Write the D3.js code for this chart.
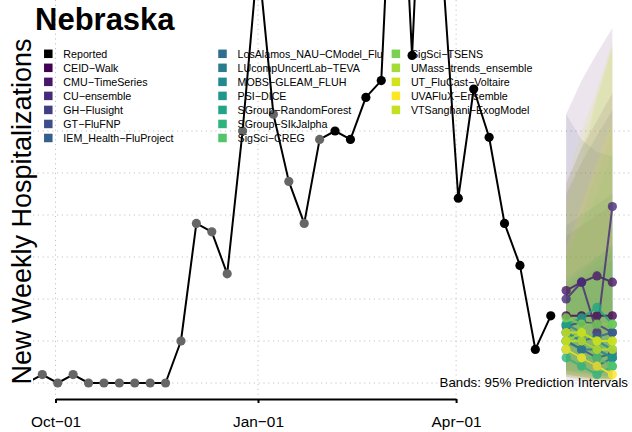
<!DOCTYPE html>
<html>
<head>
<meta charset="utf-8">
<script src="https://cdn.jsdelivr.net/npm/d3@7"></script>
<style>
  body { margin: 0; background: #fff; }
  svg { display: block; }
  text { font-family: "Liberation Sans", Arial, Helvetica, sans-serif; }
</style>
</head>
<body>
<svg id="chart" width="632" height="432"></svg>
<script>
// ---- Reported weekly hospitalizations (Nebraska) ----
const reportedDates = [
  "2022-09-18","2022-09-25","2022-10-02","2022-10-09","2022-10-16","2022-10-23",
  "2022-10-30","2022-11-06","2022-11-13","2022-11-20","2022-11-27","2022-12-04",
  "2022-12-11","2022-12-18","2022-12-25","2023-01-01","2023-01-08","2023-01-15",
  "2023-01-22","2023-01-29","2023-02-05","2023-02-12","2023-02-19","2023-02-26",
  "2023-03-05","2023-03-12","2023-03-19","2023-03-26","2023-04-02","2023-04-09",
  "2023-04-16","2023-04-23","2023-04-30","2023-05-07","2023-05-14"
];
const reportedValues = [
  0, 4, 0, 4, 0, 0,
  0, 0, 0, 0, 20, 76,
  72, 52, 120, 203, 128, 96,
  76, 116, 120, 116, 136, 144,
  300, 156, 315, 195, 88, 140,
  117, 76, 56, 16, 32
];
// weeks from this date on are final (black markers); earlier ones are grey
const finalFrom = "2023-02-05";

// ---- Forecasting models ----
const models = [
  "CEID\u2212Walk", "CMU\u2212TimeSeries", "CU\u2212ensemble", "GH\u2212Flusight",
  "GT\u2212FluFNP", "IEM_Health\u2212FluProject", "LosAlamos_NAU\u2212CModel_Flu",
  "LUcompUncertLab\u2212TEVA", "MOBS\u2212GLEAM_FLUH", "PSI\u2212DICE",
  "SGroup\u2212RandomForest", "SGroup\u2212SIkJalpha", "SigSci\u2212CREG",
  "SigSci\u2212TSENS", "UMass\u2212trends_ensemble", "UT_FluCast\u2212Voltaire",
  "UVAFluX\u2212Ensemble", "VTSanghani\u2212ExogModel"
];
const modelColors = [
  "#440154", "#481769", "#472a7a", "#433d84", "#3d4e8a", "#355f8d",
  "#2e6d8e", "#297b8e", "#23898e", "#1f978b", "#21a585", "#2eb37c",
  "#52c569", "#7ad151", "#a5db36", "#d2e21b", "#fde725", "#c5e021"
];

const forecastDates = ["2023-05-21", "2023-05-28", "2023-06-04", "2023-06-11"];

// medians, one row per model, one column per horizon
const forecastMedian = [
  [32, 32, 32, 32],
  [44, 48, 51, 48],
  [40, 48, 24, 84],
  [27, 29, 28, 24],
  [20, 16, 12, 14],
  [24, 20, 22, 24],
  [16, 12, 8, 12],
  [20, 16, 16, 12],
  [28, 24, 20, 16],
  [24, 20, 16, 12],
  [28, 31, 36, 28],
  [12, 8, 4, 8],
  [16, 12, 12, 8],
  [31, 28, 28, 28],
  [20, 24, 20, 20],
  [24, 24, 20, 20],
  [16, 12, 8, 4],
  [20, 20, 16, 16]
];
// 95% prediction interval bounds
const forecastLower = [
  [1, 1, 1, 1],
  [4, 3, 2, 2],
  [3, 2, 2, 2],
  [6, 5, 4, 3],
  [4, 3, 2, 2],
  [6, 5, 4, 3],
  [5, 4, 3, 2],
  [8, 6, 4, 3],
  [10, 8, 6, 4],
  [12, 10, 8, 6],
  [10, 8, 6, 5],
  [4, 3, 2, 2],
  [6, 4, 3, 2],
  [6, 4, 3, 2],
  [3, 2, 1, 1],
  [4, 3, 2, 1],
  [3, 2, 1, 1],
  [3, 2, 1, 1]
];
const forecastUpper = [
  [128, 144, 157, 169],
  [95, 112, 125, 138],
  [90, 105, 118, 130],
  [70, 75, 80, 85],
  [128, 116, 110, 108],
  [75, 80, 85, 90],
  [50, 55, 60, 65],
  [45, 50, 55, 58],
  [42, 46, 50, 54],
  [48, 54, 60, 66],
  [46, 52, 58, 62],
  [40, 46, 52, 58],
  [60, 75, 90, 110],
  [60, 80, 100, 120],
  [85, 105, 135, 160],
  [95, 120, 140, 163],
  [65, 85, 105, 125],
  [90, 112, 137, 160]
];

const gridValues = [0, 20, 40, 60, 80, 100, 120];
const tickDates = ["2022-10-01", "2023-01-01", "2023-04-01"];
const tickLabels = ["Oct\u221201", "Jan\u221201", "Apr\u221201"];

const stateName = "Nebraska";
const yTitle = "New Weekly Hospitalizations";
const bandNote = "Bands: 95% Prediction Intervals";

// ---- Drawing ----
const parse = d3.utcParse("%Y-%m-%d");
const plot = { left: 33, right: 632, top: 0, bottom: 399 };

const x = d3.scaleUtc()
  .domain([parse(tickDates[0]), parse(tickDates[2])])
  .range([55.5, 456.1]);
const y = d3.scaleLinear().domain([0, 120]).range([383, 131]);

const svg = d3.select("#chart");

svg.append("defs").append("clipPath").attr("id", "plotClip")
  .append("rect")
  .attr("x", plot.left).attr("y", -100)
  .attr("width", plot.right - plot.left).attr("height", plot.bottom + 100);

// dotted grid
const grid = svg.append("g").attr("stroke", "#c4c4c4").attr("stroke-width", 1)
  .attr("stroke-dasharray", "1.2,3.6");
grid.selectAll("line.h").data(gridValues).join("line").attr("class", "h")
  .attr("x1", plot.left).attr("x2", plot.right)
  .attr("y1", d => y(d)).attr("y2", d => y(d));
grid.selectAll("line.v").data(tickDates).join("line").attr("class", "v")
  .attr("x1", d => x(parse(d))).attr("x2", d => x(parse(d)))
  .attr("y1", plot.top).attr("y2", plot.bottom - 3);

const panel = svg.append("g").attr("clip-path", "url(#plotClip)");

// prediction bands
const fDates = forecastDates.map(parse);
const band = d3.area()
  .x(d => x(d.date)).y0(d => y(d.lo)).y1(d => y(d.hi));
models.forEach((m, i) => {
  const rows = fDates.map((d, k) => ({ date: d, lo: forecastLower[i][k], hi: forecastUpper[i][k] }));
  panel.append("path").datum(rows)
    .attr("d", band)
    .attr("fill", modelColors[i])
    .attr("fill-opacity", 0.1);
});

// reported series
const reported = reportedDates.map((d, i) => ({ date: parse(d), value: reportedValues[i], final: d >= finalFrom }));
const line = d3.line().x(d => x(d.date)).y(d => y(d.value));
panel.append("path").datum(reported)
  .attr("d", line).attr("fill", "none")
  .attr("stroke", "#000").attr("stroke-width", 2).attr("stroke-linejoin", "round");
panel.selectAll("circle.rep").data(reported).join("circle").attr("class", "rep")
  .attr("cx", d => x(d.date)).attr("cy", d => y(d.value)).attr("r", 4.6)
  .attr("fill", d => d.final ? "#000" : "#666");

// forecast medians
models.forEach((m, i) => {
  const rows = fDates.map((d, k) => ({ date: d, value: forecastMedian[i][k] }));
  const g = panel.append("g").attr("opacity", 0.8);
  g.append("path").datum(rows).attr("d", line).attr("fill", "none")
    .attr("stroke", modelColors[i]).attr("stroke-width", 2);
  g.selectAll("circle").data(rows).join("circle")
    .attr("cx", d => x(d.date)).attr("cy", d => y(d.value)).attr("r", 4.6)
    .attr("fill", modelColors[i]);
});

// x axis
const axis = d3.axisBottom(x)
  .tickValues(tickDates.map(parse))
  .tickFormat((d, i) => tickLabels[i])
  .tickSizeOuter(0).tickSizeInner(4).tickPadding(12.6);
const ax = svg.append("g").attr("transform", `translate(0,${plot.bottom})`).call(axis);
ax.select(".domain").attr("stroke", "#000").attr("stroke-width", 2);
ax.selectAll(".tick line").attr("stroke", "#000").attr("stroke-width", 2);
ax.selectAll(".tick text").attr("font-size", 15.4).attr("fill", "#000")
  .attr("font-family", "Liberation Sans, Arial, sans-serif");

// band note
svg.append("text").attr("x", 628).attr("y", 387)
  .attr("text-anchor", "end").attr("font-size", 13.3).attr("fill", "#000")
  .text(bandNote);

// legend
const legendItems = [{ name: "Reported", color: "#000" }]
  .concat(models.map((m, i) => ({ name: m, color: modelColors[i] })));
const colX = [48.3, 222.5, 395.9];
const rowY0 = 53.8, rowStep = 14.03, perCol = 7;
const legend = svg.append("g");
legendItems.forEach((it, i) => {
  const c = Math.floor(i / perCol), r = i % perCol;
  const cx = colX[c], cy = rowY0 + r * rowStep;
  legend.append("rect")
    .attr("x", cx - 4.25).attr("y", cy - 4.25)
    .attr("width", 8.5).attr("height", 8.5)
    .attr("fill", it.color);
  legend.append("text")
    .attr("x", cx + 15).attr("y", cy + 3.9)
    .attr("font-size", 10.7).attr("fill", "#000")
    .text(it.name);
});

// title
svg.append("text").attr("x", 35).attr("y", 30)
  .attr("font-size", 31).attr("font-weight", "bold").attr("fill", "#000")
  .text(stateName);

// y title
svg.append("text")
  .attr("transform", "translate(31,211.5) rotate(-90)")
  .attr("text-anchor", "middle").attr("font-size", 27).attr("fill", "#000")
  .text(yTitle);
</script>
</body>
</html>
